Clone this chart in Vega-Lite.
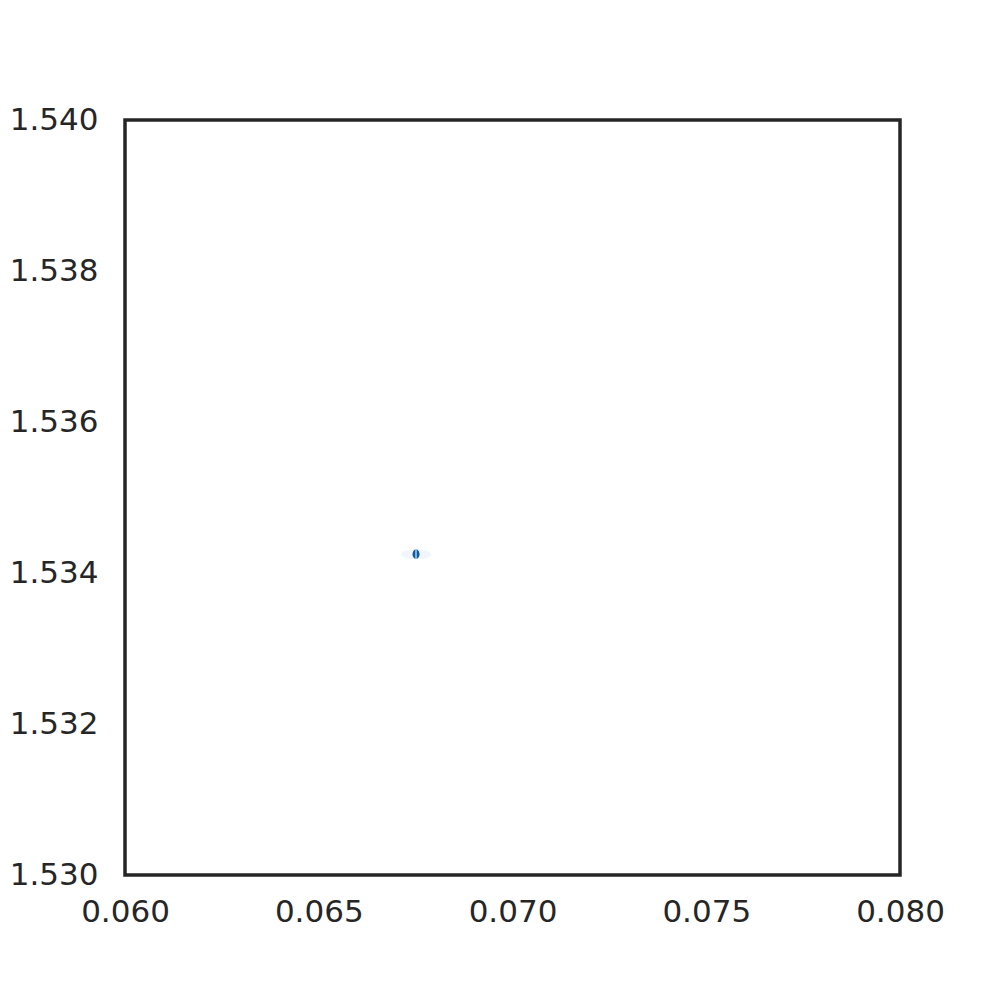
{
  "$schema": "https://vega.github.io/schema/vega-lite/v6.json",
  "autosize": "none",
  "padding": {"left": 125, "top": 120, "right": 100, "bottom": 125},
  "width": 775,
  "height": 755,
  "background": "white",
  "config": {
    "view": {"stroke": "#262626", "strokeWidth": 3.5},
    "axis": {"labelFont": "DejaVu Sans", "labelFontSize": 31, "labelColor": "#262626", "ticks": false, "domain": false, "grid": false, "title": null, "labelFlush": false, "labelOverlap": false}
  },
  "data": {"values": [{"x": 0.06751, "y": 1.53425}]},
  "encoding": {
    "x": {"field": "x", "type": "quantitative", "scale": {"domain": [0.06, 0.08], "nice": false, "zero": false},
      "axis": {"values": [0.06, 0.065, 0.07, 0.075, 0.08], "format": ".3f", "labelPadding": 22}},
    "y": {"field": "y", "type": "quantitative", "scale": {"domain": [1.53, 1.54], "nice": false, "zero": false},
      "axis": {"values": [1.53, 1.532, 1.534, 1.536, 1.538, 1.54], "format": ".3f", "labelPadding": 27}}
  },
  "layer": [
    {"mark": {"type": "point", "filled": true, "color": "#f1f6fc", "opacity": 1, "size": 900,
      "shape": "M-1,0A1,0.333 0 1,1 1,0A1,0.333 0 1,1 -1,0Z"}},
    {"mark": {"type": "point", "filled": true, "color": "#0f5aa6", "opacity": 1, "size": 49,
      "shape": "M0,-1.3A1,1.3 0 1,1 0,1.3A1,1.3 0 1,1 0,-1.3Z"}},
    {"mark": {"type": "point", "filled": false, "color": "white", "opacity": 1, "strokeWidth": 1, "size": 81,
      "shape": "M0,-1L0,1"}}
  ]
}
